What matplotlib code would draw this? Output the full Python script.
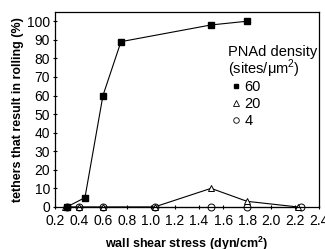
import numpy as np
import matplotlib.pyplot as plt
from matplotlib.lines import Line2D

plt.rcParams['font.family'] = ['Liberation Sans', 'DejaVu Sans']

# PNAd density 60 sites/um2
x60 = [0.3, 0.45, 0.6, 0.75, 1.5, 1.8]
y60 = [0, 5, 60, 89, 98, 100]
# 20 sites/um2
x20 = [0.28, 0.4, 0.6, 1.03, 1.5, 1.8, 2.22]
y20 = [0, 0, 0, 0, 10, 3, 0]
# 4 sites/um2
x4 = [0.3, 0.4, 0.6, 1.03, 1.5, 1.8, 2.25]
y4 = [0, 0, 0, 0, 0, 0, 0]

xticks = np.arange(0.2, 2.41, 0.2)
yticks = np.arange(0, 101, 10)
labels = ['60', '20', '4']

fig = plt.figure(figsize=(3.25, 2.49), dpi=100)
ax = fig.add_axes([0.169, 0.169, 0.813, 0.783])

ax.plot(x4, y4, color='black', lw=0.8, marker='o', ms=5, mfc='white', mec='black', mew=0.7, clip_on=False)
ax.plot(x20, y20, color='black', lw=0.8, marker='^', ms=5, mfc='white', mec='black', mew=0.7, clip_on=False)
ax.plot(x60, y60, color='black', lw=0.8, marker='s', ms=4.5, mfc='black', mec='black', clip_on=False)

ax.set_xlim(0.2, 2.38)
ax.set_ylim(0, 105)
ax.set_xticks(xticks)
ax.set_xticklabels(['%.1f' % v for v in xticks])
ax.set_yticks(yticks)
ax.tick_params(axis='both', labelsize=10, length=3, width=0.8, direction='inout')
ax.tick_params(axis='x', pad=3.5)
ax.tick_params(axis='y', pad=2)
for s in ax.spines.values():
    s.set_linewidth(0.9)

ax.set_xlabel('wall shear stress (dyn/cm$^\\mathregular{2}$)', fontsize=9, fontweight='bold', labelpad=5)
ax.set_ylabel('tethers that result in rolling (%)', fontsize=9, fontweight='bold', labelpad=2)

ax.text(1.64, 81.5, 'PNAd density', fontsize=10.5, va='baseline')
ax.text(1.64, 71.5, '(sites/\u03bcm$^\\mathregular{2}$)', fontsize=10.5, va='baseline')
mk = [Line2D([], [], ls='', marker='s', ms=3.5, mfc='black', mec='black'),
      Line2D([], [], ls='', marker='^', ms=4, mfc='white', mec='black', mew=0.6),
      Line2D([], [], ls='', marker='o', ms=4, mfc='white', mec='black', mew=0.6)]
ax.legend(mk, labels, loc='upper left', bbox_to_anchor=(0.637, 0.687), frameon=False,
          fontsize=10.5, handlelength=0.8, handletextpad=0.15, labelspacing=0.2, borderpad=0)

fig.savefig('out.png', dpi=100)
